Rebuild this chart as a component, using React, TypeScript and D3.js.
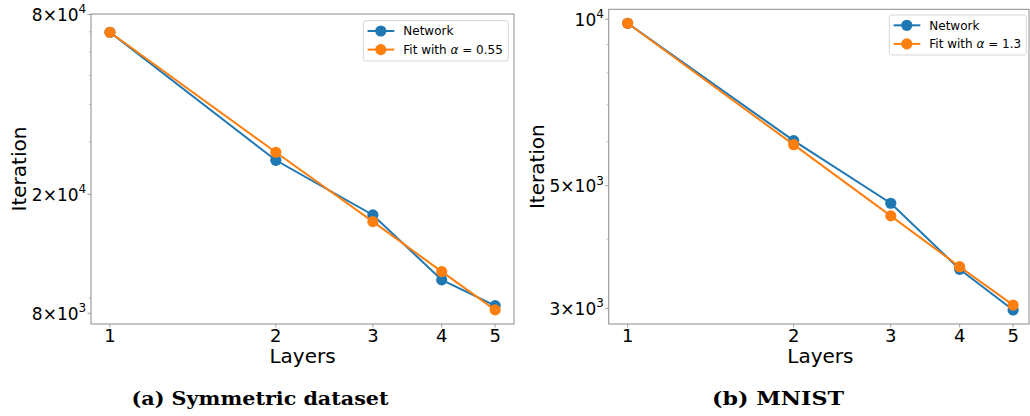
import React from "react";
import * as d3 from "d3";

const layers = [1, 2, 3, 4, 5];
const symNetwork = [69770, 26000, 17060, 10340, 8476];
const symFit = [69770, 27660, 16200, 11020, 8205];
const mnistNetwork = [9831, 6030, 4646, 3529, 2979];
const mnistFit = [9831, 5930, 4408, 3567, 3040];

const xTicks = [1, 2, 3, 4, 5];
const symYTicks = [8000, 20000, 80000];
const symYMinor = [9000, 30000, 40000, 50000, 60000, 70000];
const mnistYTicks = [3000, 5000, 10000];
const mnistYMinor = [4000, 6000, 7000, 8000, 9000];

const seriesNames = ["Network", "Fit with "];
const symAlpha = "0.55";
const mnistAlpha = "1.3";

const BLUE = "#1f77b4";
const ORANGE = "#ff7f0e";
const SPINE = "#8c8c8c";
const SANS = "'DejaVu Sans', sans-serif";

type PanelProps = {
  left: number;
  top: number;
  right: number;
  rangeRight: number;
  bottom: number;
  yDomain: [number, number];
  network: number[];
  fit: number[];
  yTicks: number[];
  yMinor: number[];
  alpha: string;
  legend: { x: number; y: number; w: number; h: number };
  yLabelX: number;
};

function tickLabel(v: number) {
  const e = Math.floor(Math.log10(v) + 1e-9);
  const m = Math.round(v / Math.pow(10, e));
  return { m, e };
}

function Panel(p: PanelProps) {
  const x = d3.scaleLog().domain([0.924, 5.41]).range([p.left, p.rangeRight]);
  const y = d3.scaleLog().domain(p.yDomain).range([p.bottom, p.top]);
  const line = d3
    .line<number>()
    .x((_, i) => x(layers[i]))
    .y((d) => y(d));
  const series = [
    { data: p.network, color: BLUE },
    { data: p.fit, color: ORANGE },
  ];
  const midX = (p.left + p.rangeRight) / 2;
  const midY = (p.top + p.bottom) / 2;
  const lg = p.legend;
  return (
    <g>
      {/* series */}
      {series.map((s, si) => (
        <g key={si}>
          <path d={line(s.data) || ""} fill="none" stroke={s.color} strokeWidth={2} />
          {s.data.map((d, i) => (
            <circle key={i} cx={x(layers[i])} cy={y(d)} r={5.6} fill={s.color} />
          ))}
        </g>
      ))}
      {/* frame */}
      <rect
        x={p.left}
        y={p.top}
        width={p.right - p.left}
        height={p.bottom - p.top}
        fill="none"
        stroke={SPINE}
        strokeWidth={1}
      />
      {/* x ticks */}
      {xTicks.map((t) => (
        <g key={t}>
          <line x1={x(t)} x2={x(t)} y1={p.bottom} y2={p.bottom + 3.5} stroke={SPINE} strokeWidth={0.8} />
          <text x={x(t)} y={p.bottom + 17.5} textAnchor="middle" fontFamily={SANS} fontSize={18} fill="#000">
            {t}
          </text>
        </g>
      ))}
      {/* y minor ticks */}
      {p.yMinor.map((t) => (
        <line key={t} x1={p.left - 2} x2={p.left} y1={y(t)} y2={y(t)} stroke={SPINE} strokeWidth={0.6} />
      ))}
      {/* y major ticks */}
      {p.yTicks.map((t) => {
        const { m, e } = tickLabel(t);
        return (
          <g key={t}>
            <line x1={p.left - 3.5} x2={p.left} y1={y(t)} y2={y(t)} stroke={SPINE} strokeWidth={0.8} />
            <text x={p.left - 4.8} y={y(t) + 6.5} textAnchor="end" fontFamily={SANS} fontSize={17} fill="#000">
              {m === 1 ? "10" : `${m}×10`}
              <tspan dy={-7.5} fontSize={12}>
                {e}
              </tspan>
            </text>
          </g>
        );
      })}
      {/* axis labels */}
      <text x={midX} y={362.5} textAnchor="middle" fontFamily={SANS} fontSize={20} fill="#000">
        Layers
      </text>
      <text
        transform={`translate(${p.yLabelX},${midY}) rotate(-90)`}
        textAnchor="middle"
        fontFamily={SANS}
        fontSize={20}
        fill="#000"
      >
        Iteration
      </text>
      {/* legend */}
      <rect
        x={lg.x}
        y={lg.y}
        width={lg.w}
        height={lg.h}
        rx={2.5}
        fill="#fff"
        fillOpacity={0.8}
        stroke="#d6d6d6"
        strokeWidth={1}
      />
      {series.map((s, i) => {
        const ry = lg.y + 10.3 + i * 18.6;
        return (
          <g key={i}>
            <line x1={lg.x + 4.3} x2={lg.x + 31} y1={ry} y2={ry} stroke={s.color} strokeWidth={2} />
            <circle cx={lg.x + 17.5} cy={ry} r={5.6} fill={s.color} />
            <text x={lg.x + 40} y={ry + 4.4} fontFamily={SANS} fontSize={12} fill="#000">
              {seriesNames[i]}
              {i === 1 ? (
                <>
                  <tspan fontStyle="italic">α</tspan>
                  <tspan>{` = ${p.alpha}`}</tspan>
                </>
              ) : null}
            </text>
          </g>
        );
      })}
    </g>
  );
}

export default function App() {
  return (
    <svg
      width={1030}
      height={416}
      style={{ position: "absolute", left: 0, top: 0, background: "#fff" }}
    >
      <rect x={0} y={0} width={1030} height={416} fill="#fff" />
      <Panel
        left={91}
        top={14}
        right={514}
        rangeRight={514}
        bottom={324}
        yDomain={[7360, 80300]}
        network={symNetwork}
        fit={symFit}
        yTicks={symYTicks}
        yMinor={symYMinor}
        alpha={symAlpha}
        legend={{ x: 363.3, y: 20.7, w: 145, h: 40.3 }}
        yLabelX={26}
      />
      <Panel
        left={608.7}
        top={9.3}
        right={1029}
        rangeRight={1032}
        bottom={324}
        yDomain={[2810, 10421]}
        network={mnistNetwork}
        fit={mnistFit}
        yTicks={mnistYTicks}
        yMinor={mnistYMinor}
        alpha={mnistAlpha}
        legend={{ x: 889.3, y: 15, w: 137, h: 40 }}
        yLabelX={544}
      />
      <text
        x={260}
        y={405}
        textAnchor="middle"
        fontFamily="'DejaVu Serif', serif"
        fontWeight="bold"
        fontSize={18.5}
        textLength={257}
        lengthAdjust="spacingAndGlyphs"
        fill="#000"
      >
        (a) Symmetric dataset
      </text>
      <text
        x={778}
        y={405}
        textAnchor="middle"
        fontFamily="'DejaVu Serif', serif"
        fontWeight="bold"
        fontSize={18.5}
        textLength={132}
        lengthAdjust="spacingAndGlyphs"
        fill="#000"
      >
        (b) MNIST
      </text>
    </svg>
  );
}
